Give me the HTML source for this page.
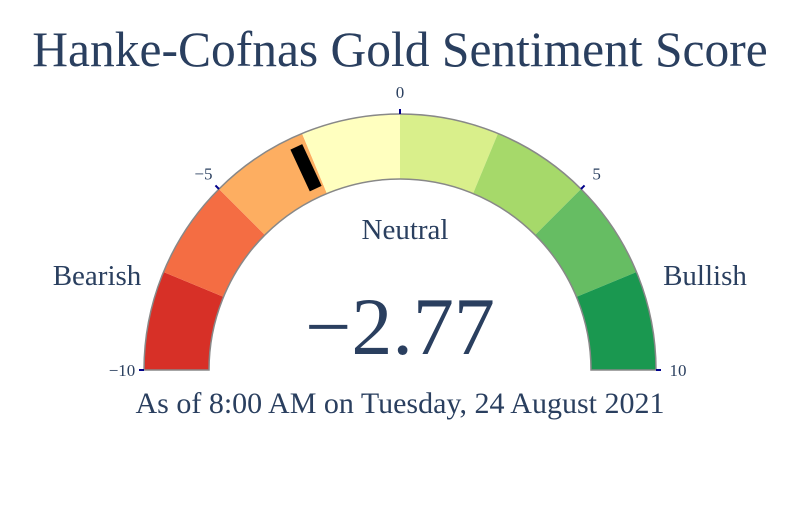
<!DOCTYPE html>
<html><head><meta charset="utf-8"><style>
body{margin:0;background:#fff;}
svg text{font-family:"Liberation Serif",serif;fill:#2a3f5f;}
</style></head><body>
<svg id="g" width="800" height="500" viewBox="0 0 800 500">
<text x="400" y="66" text-anchor="middle" font-size="49.5">Hanke-Cofnas Gold Sentiment Score</text>
<g id="steps"></g><g id="ticks"></g>
<text x="405" y="239" text-anchor="middle" font-size="29">Neutral</text>
<text x="400" y="354" text-anchor="middle" font-size="82">−2.77</text>
<text x="97" y="285" text-anchor="middle" font-size="29">Bearish</text>
<text x="705" y="285" text-anchor="middle" font-size="29">Bullish</text>
<text x="400" y="413" text-anchor="middle" font-size="30">As of 8:00 AM on Tuesday, 24 August 2021</text>
</svg>
<script>
const stepStarts=[-10,-7.5,-5,-2.5,0,2.5,5,7.5];
const stepEnds=[-7.5,-5,-2.5,0,2.5,5,7.5,10];
const stepColors=['#d73027','#f46d43','#fdae61','#ffffbf','#d9ef8b','#a6d96a','#66bd63','#1a9850'];
const tickValues=[-10,-5,0,5,10];
const tickLabels=['−10','−5','0','5','10'];
const value=-2.77;
const cx=400,cy=370,R=256,r=191,min=-10,max=10;
const NS='http://www.w3.org/2000/svg';
function ang(v){return Math.PI*(1-(v-min)/(max-min));}
function pt(v,rad){const a=ang(v);return [cx+rad*Math.cos(a),cy-rad*Math.sin(a)];}
function arc(v0,v1,ro,ri){const a=pt(v0,ro),b=pt(v1,ro),c=pt(v1,ri),d=pt(v0,ri);
return `M${a[0]},${a[1]}A${ro},${ro} 0 0 1 ${b[0]},${b[1]}L${c[0]},${c[1]}A${ri},${ri} 0 0 0 ${d[0]},${d[1]}Z`;}
const sg=document.getElementById('steps');
stepStarts.forEach((s,i)=>{const p=document.createElementNS(NS,'path');
p.setAttribute('d',arc(s,stepEnds[i],R,r));p.setAttribute('fill',stepColors[i]);


sg.appendChild(p);});
const o=document.createElementNS(NS,'path');
o.setAttribute('d',arc(min,max,R,r));o.setAttribute('fill','none');o.setAttribute('stroke','#888');o.setAttribute('stroke-width','1.5');


sg.appendChild(o);
const tg=document.getElementById('ticks');
tickValues.forEach((v,i)=>{const a=pt(v,R),b=pt(v,R+5);
const l=document.createElementNS(NS,'line');
l.setAttribute('x1',a[0]);l.setAttribute('y1',a[1]);l.setAttribute('x2',b[0]);l.setAttribute('y2',b[1]);
l.setAttribute('stroke','#00008b');l.setAttribute('stroke-width','2');


tg.appendChild(l);
const t=document.createElementNS(NS,'text');const q=pt(v,R+22);
t.setAttribute('x',q[0]);t.setAttribute('y',q[1]+6);t.setAttribute('text-anchor','middle');t.setAttribute('font-size','17');
t.textContent=tickLabels[i];


tg.appendChild(t);});
const m1=pt(value,200),m2=pt(value,246);
const mk=document.createElementNS(NS,'line');
mk.setAttribute('x1',m1[0]);mk.setAttribute('y1',m1[1]);mk.setAttribute('x2',m2[0]);mk.setAttribute('y2',m2[1]);
mk.setAttribute('stroke','#000');mk.setAttribute('stroke-width','13');


tg.appendChild(mk);
</script>
</body></html>
